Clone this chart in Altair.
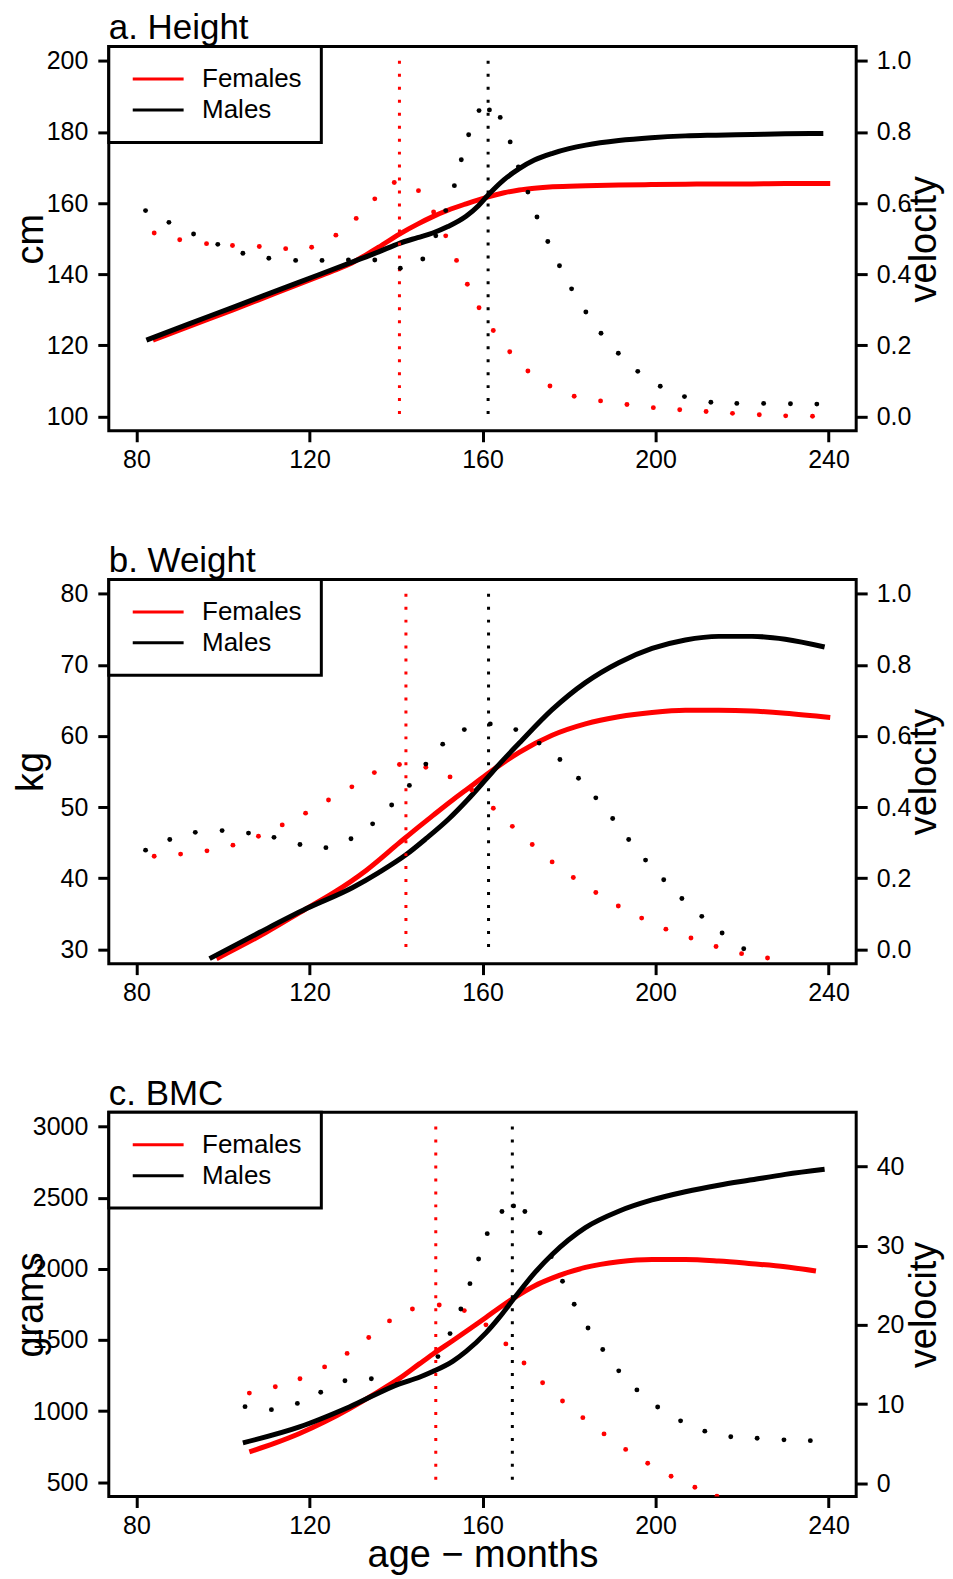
import altair as alt
import pandas as pd

FONT = "Liberation Sans"
RED = "#ff0000"
BLACK = "#000000"
W, H = 749, 385
XDOM = [73.6, 246.4]
XTICKS = [80, 120, 160, 200, 240]
SEXES = ["Females", "Males"]

# ---------------- a. Height ----------------
a_f_age = [83.8, 92, 102.3, 112, 122, 127, 130, 133, 136, 140.8, 145, 148.5, 152, 156.2, 161.1,
           165, 168.5, 172, 176.2, 183.9, 191.5, 199, 206.9, 214.6, 222.3, 230, 240.4]
a_f_cm = [121.5, 125.3, 130.0, 134.6, 139.3, 141.7, 143.3, 145.4, 147.6, 151.3, 154.1, 156.2,
          158.0, 159.8, 161.7, 162.9, 163.7, 164.2, 164.6, 164.9, 165.1, 165.2, 165.3, 165.4, 165.4,
          165.5, 165.5]
a_m_age = [82.3, 92, 102.3, 112, 122, 130, 136, 140.8, 145, 148.5, 152, 156.2, 159, 161.1, 165, 168.5,
           172, 176.2, 180, 183.9, 191.5, 199, 206.9, 214, 222.3, 230, 238.8]
a_m_cm = [121.5, 126.0, 130.7, 135.2, 139.8, 143.5, 146.3, 148.7, 150.3, 151.6, 153.4, 156.3, 159.2,
          162.0, 166.6, 169.7, 172.1, 174.0, 175.3, 176.3, 177.6, 178.4, 178.9, 179.1, 179.3, 179.5, 179.6]
a_fv_age = [84.1, 90.0, 96.2, 102.2, 108.4, 114.5, 120.5, 126.1, 130.8, 135.1, 139.6, 145.2, 148.7,
            151.5, 154.0, 156.5, 159.2, 162.5, 166.3, 170.5, 175.6, 181.2, 187.3, 193.4, 199.5, 205.6,
            211.7, 217.8, 224.0, 230.1, 236.3]
a_fv = [0.516, 0.497, 0.486, 0.481, 0.478, 0.472, 0.476, 0.510, 0.557, 0.612, 0.658, 0.635, 0.575,
        0.508, 0.439, 0.372, 0.306, 0.242, 0.182, 0.128, 0.086, 0.057, 0.044, 0.034, 0.025, 0.019,
        0.014, 0.009, 0.005, 0.002, 0.001]
a_mv_age = [82.1, 87.5, 93.2, 98.8, 104.6, 110.6, 116.8, 122.9, 129.0, 135.1, 141.0, 146.2, 149.2,
            151.5, 153.5, 155.1, 156.8, 159.2, 161.6, 164.1, 166.4, 168.3, 170.5, 172.6, 175.1, 177.8,
            180.6, 183.9, 187.4, 191.4, 195.9, 201.1, 206.7, 212.8, 218.8, 225.0, 231.2, 237.3]
a_mv = [0.579, 0.546, 0.513, 0.484, 0.459, 0.445, 0.439, 0.439, 0.440, 0.440, 0.417, 0.443, 0.508,
        0.579, 0.649, 0.722, 0.792, 0.860, 0.862, 0.841, 0.772, 0.702, 0.631, 0.561, 0.492, 0.424,
        0.359, 0.294, 0.234, 0.178, 0.127, 0.085, 0.056, 0.040, 0.037, 0.037, 0.036, 0.035]
a_peaks = [140.8, 161.3]

# ---------------- b. Weight ----------------
b_f_age = [98.5, 110, 119.2, 125.4, 133.1, 140.8, 145.4, 148.5, 153.1, 156.2, 160.8, 164, 168.5,
           176.1, 183.8, 191.5, 199.2, 206.9, 214.6, 222.3, 230.0, 240.4]
b_f_kg = [28.7, 32.4, 35.7, 37.9, 41.1, 45.0, 47.3, 48.8, 51.0, 52.4, 54.5, 55.9, 57.7, 60.1, 61.7,
          62.7, 63.3, 63.6, 63.6, 63.5, 63.2, 62.6]
b_m_age = [96.9, 108.5, 119.2, 130, 136, 142.3, 147, 152.3, 156.5, 160.8, 164.6, 168.5, 176.1, 183.8,
           191.5, 199.2, 206.9, 214.6, 222.3, 230.0, 239.1]
b_m_kg = [28.7, 32.4, 35.7, 38.7, 40.8, 43.3, 45.6, 48.4, 51.0, 53.9, 56.5, 59.0, 63.7, 67.5, 70.3,
          72.3, 73.5, 74.0, 74.0, 73.6, 72.5]
b_fv_age = [84.1, 90.2, 96.3, 102.3, 108.2, 113.7, 119.1, 124.4, 129.8, 135.0, 140.8, 146.9, 152.5,
            157.5, 162.5, 166.9, 171.5, 176.1, 181.0, 186.2, 191.4, 196.8, 202.4, 208.2, 214.0, 219.9,
            225.9]
b_fv = [0.262, 0.268, 0.277, 0.293, 0.318, 0.350, 0.383, 0.420, 0.457, 0.497, 0.520, 0.512, 0.485,
        0.448, 0.397, 0.346, 0.295, 0.246, 0.202, 0.160, 0.122, 0.088, 0.057, 0.032, 0.008, -0.012,
        -0.024]
b_mv_age = [82.1, 87.7, 93.6, 99.8, 105.9, 111.8, 117.8, 123.8, 129.6, 134.6, 139.0, 143.1, 146.9,
            150.8, 155.8, 161.8, 167.7, 173.1, 177.9, 182.2, 186.2, 190.1, 193.8, 197.7, 201.9, 206.1,
            210.7, 215.4, 220.4]
b_mv = [0.279, 0.309, 0.329, 0.334, 0.327, 0.315, 0.295, 0.286, 0.311, 0.353, 0.406, 0.461, 0.521,
        0.577, 0.618, 0.634, 0.618, 0.580, 0.534, 0.481, 0.426, 0.368, 0.309, 0.251, 0.196, 0.143,
        0.093, 0.046, 0.002]
b_peaks = [142.3, 161.4]

# ---------------- c. BMC ----------------
c_f_age = [106.1, 112, 117.7, 123.5, 129.2, 135, 140.8, 145.4, 148.5, 153.1, 160.8, 164, 167.5, 172,
           176.1, 183.8, 191.5, 199.2, 206.9, 214.6, 222.3, 230.0, 237.1]
c_f_g = [714, 775, 843, 925, 1017, 1120, 1230, 1332, 1400, 1495, 1658, 1728, 1800, 1880, 1935, 2010,
         2050, 2066, 2066, 2055, 2036, 2015, 1985]
c_m_age = [104.6, 117.7, 129.2, 140.8, 145.4, 148.5, 153.1, 156.2, 160.8, 163.8, 167.5, 172.3, 176.1,
           183.8, 191.5, 199.2, 206.9, 214.6, 222.3, 230.0, 239.1]
c_m_g = [777, 889, 1029, 1192, 1238, 1278, 1350, 1420, 1550, 1655, 1800, 1980, 2101, 2290, 2405,
         2484, 2542, 2588, 2626, 2664, 2700]
c_fv_age = [106.1, 112.1, 117.8, 123.5, 128.7, 133.7, 138.5, 143.8, 150.0, 155.8, 160.8, 165.4,
            169.6, 173.9, 178.5, 183.2, 188.1, 193.1, 198.2, 203.6, 209.1, 214.2]
c_fv = [11.4, 12.2, 13.2, 14.7, 16.4, 18.4, 20.5, 22.0, 22.5, 21.8, 20.0, 17.6, 15.2, 12.7, 10.4,
        8.3, 6.25, 4.3, 2.55, 0.92, -0.47, -1.6]
c_mv_age = [105.1, 111.2, 117.2, 122.6, 128.2, 134.3, 140.2, 149.7, 152.5, 155.0, 157.1, 159.1,
            161.1, 164.5, 167.2, 169.8, 173.3, 175.9, 178.5, 181.2, 184.4, 187.8, 191.5, 195.7, 200.5,
            205.8, 211.4, 217.4, 223.5, 229.7, 235.8]
c_mv = [9.69, 9.31, 10.1, 11.5, 12.96, 13.2, 12.5, 16.0, 18.9, 22.0, 25.2, 28.3, 31.5, 34.3, 35.0,
        34.3, 31.6, 28.6, 25.5, 22.6, 19.6, 16.9, 14.2, 11.8, 9.65, 7.9, 6.6, 5.9, 5.7, 5.5, 5.4]
c_peaks = [149.2, 166.9]


def make_panel(title, f_age, f_val, m_age, m_val, fv_age, fv, mv_age, mv, peaks,
               rule_top, rule_bot, ydom, yticks, ytitle, yfmt, vdom, vticks, vfmt, last):
    dist = pd.DataFrame({"age": f_age + m_age, "value": f_val + m_val,
                         "sex": ["Females"] * len(f_age) + ["Males"] * len(m_age)})
    vel = pd.DataFrame({"age": fv_age + mv_age, "vel": fv + mv,
                        "col": [RED] * len(fv_age) + [BLACK] * len(mv_age)})
    rules = pd.DataFrame({"age": peaks, "top": [rule_top] * 2, "bot": [rule_bot] * 2,
                          "col": [RED, BLACK]})
    xaxis = alt.Axis(values=XTICKS, title="age − months" if last else None, labelFlush=False,
                     labelPadding=6, titlePadding=-2, titleFontSize=38)
    xenc = alt.X("age:Q", scale=alt.Scale(domain=XDOM, nice=False, zero=False), axis=xaxis)
    yscale = alt.Scale(domain=ydom, nice=False, zero=False)
    yaxis = alt.Axis(orient="left", values=yticks, format=yfmt, title=ytitle, titleX=-66,
                     titleY=H / 2, titleAngle=270, titleAlign="center",
                     titleBaseline="alphabetic", labelPadding=10, labelOverlap=False)
    legend = alt.Legend(title=None, orient="top-left", offset=0, padding=19.5, rowPadding=5,
                        symbolType="M-5,0H5", symbolSize=104, symbolStrokeWidth=3,
                        symbolOffset=17, labelOffset=31, labelFontSize=26, labelFont=FONT,
                        labelColor="black", strokeColor="black", fillColor="white")
    lines = alt.Chart(dist).mark_line(strokeWidth=5, clip=True, interpolate="monotone").encode(
        x=xenc,
        y=alt.Y("value:Q", scale=yscale, axis=yaxis),
        color=alt.Color("sex:N", scale=alt.Scale(domain=SEXES, range=[RED, BLACK]), legend=legend),
    )
    vlines = alt.Chart(rules).mark_rule(strokeWidth=3, strokeDash=[3, 10]).encode(
        x=xenc,
        y=alt.Y("top:Q", scale=yscale, axis=yaxis),
        y2="bot:Q",
        color=alt.Color("col:N", scale=None),
    )
    vaxis = alt.Axis(orient="right", values=vticks, format=vfmt, title="velocity", titleX=79,
                     titleY=H / 2, titleAngle=270, titleAlign="center", titleBaseline="alphabetic",
                     labelPadding=9, labelOverlap=False)
    pts = alt.Chart(vel).mark_circle(size=24, opacity=1, clip=True).encode(
        x=xenc,
        y=alt.Y("vel:Q", scale=alt.Scale(domain=vdom, nice=False, zero=False), axis=vaxis),
        color=alt.Color("col:N", scale=None),
    )
    left = alt.layer(lines, vlines)
    return alt.layer(left, pts).resolve_scale(y="independent").properties(
        width=W, height=H,
        title=alt.Title(title, anchor="start", frame="group", offset=-29, baseline="alphabetic"),
    )


pa = make_panel("a. Height", a_f_age, a_f_cm, a_m_age, a_m_cm, a_fv_age, a_fv, a_mv_age, a_mv,
                a_peaks, 200, 100, [96, 204], [100, 120, 140, 160, 180, 200], "cm", "d",
                [-0.04, 1.04], [0, 0.2, 0.4, 0.6, 0.8, 1.0], ".1f", False)
pb = make_panel("b. Weight", b_f_age, b_f_kg, b_m_age, b_m_kg, b_fv_age, b_fv, b_mv_age, b_mv,
                b_peaks, 80, 30, [28, 82], [30, 40, 50, 60, 70, 80], "kg", "d",
                [-0.04, 1.04], [0, 0.2, 0.4, 0.6, 0.8, 1.0], ".1f", False)
pc = make_panel("c. BMC", c_f_age, c_f_g, c_m_age, c_m_g, c_fv_age, c_fv, c_mv_age, c_mv,
                c_peaks, 3000, 500, [400, 3100], [500, 1000, 1500, 2000, 2500, 3000], "grams", "d",
                [-1.64, 46.8], [0, 10, 20, 30, 40], "d", True)

chart = alt.vconcat(pa, pb, pc, spacing=68).resolve_scale(
    x="independent", y="independent", color="independent"
).resolve_legend(color="independent").properties(
    padding={"left": 3, "top": 0, "right": 0, "bottom": 0}
).configure_view(
    stroke="black", strokeWidth=3
).configure_axis(
    labelFont=FONT, titleFont=FONT, labelColor="black", titleColor="black", tickColor="black",
    tickWidth=3, tickSize=11, domain=False, grid=False, labelFontSize=25, titleFontSize=38,
    titleFontWeight="normal"
).configure_title(
    font=FONT, fontSize=35, fontWeight="normal", color="black"
).configure_legend(
    strokeWidth=3
)

chart.save("out.html", embed_options={"renderer": "svg", "actions": False})
